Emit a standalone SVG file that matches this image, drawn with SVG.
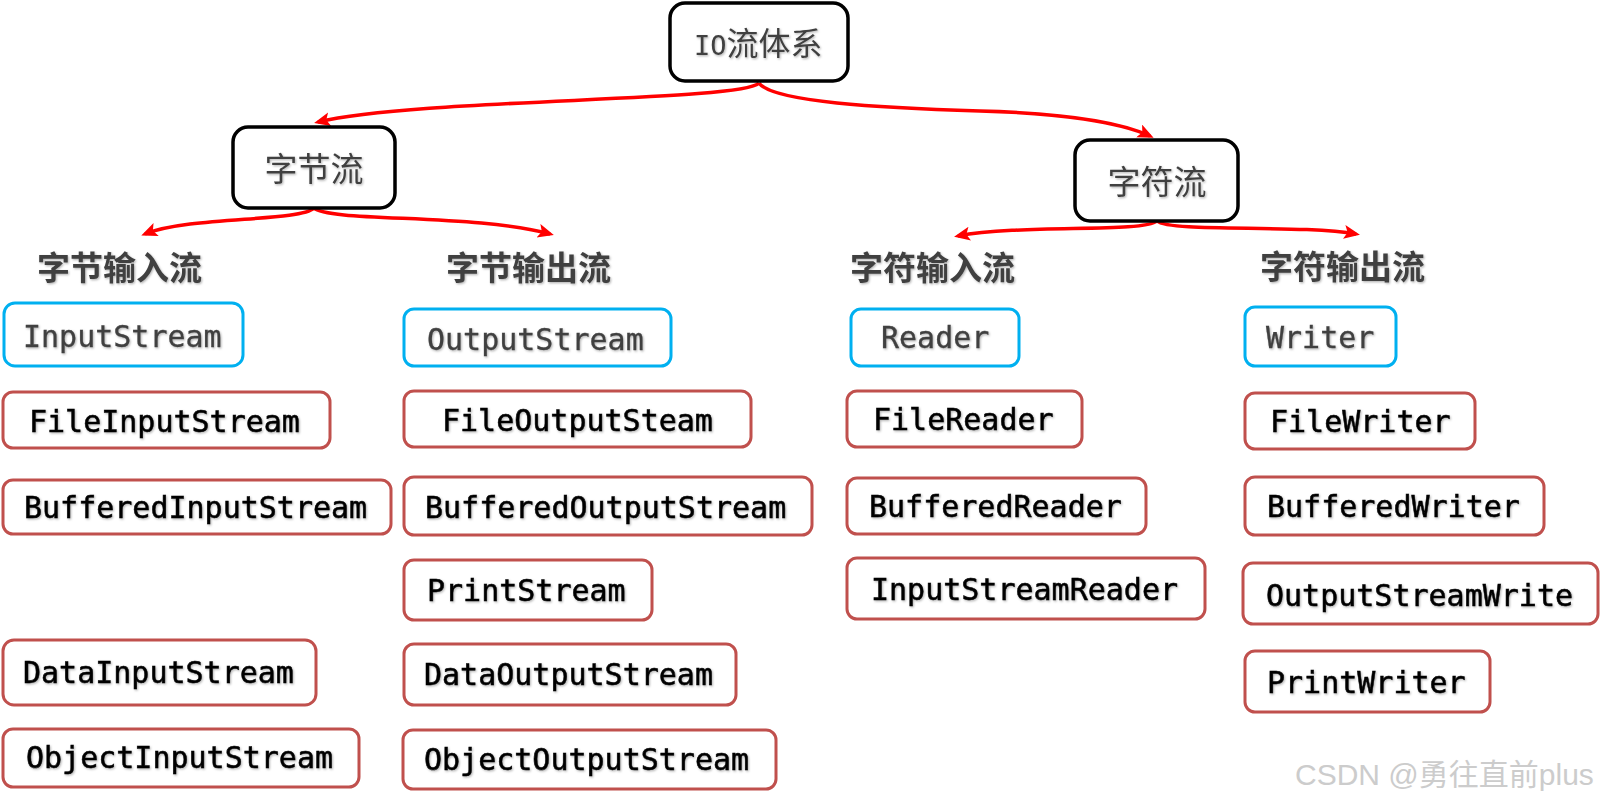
<svg xmlns="http://www.w3.org/2000/svg" width="1601" height="802" viewBox="0 0 1601 802">
<style>
.root{fill:#fff;stroke:#000;stroke-width:3.5}
.cls{fill:#fff;stroke:#C0504D;stroke-width:3}
.abs{fill:#fff;stroke:#00B0F0;stroke-width:3}
.mono{font-family:"DejaVu Sans Mono","Liberation Mono",monospace;font-size:30px}
.dark{fill:#000;stroke:#000;stroke-width:0.5}
.gray{fill:#404040;stroke:#404040;stroke-width:0.3}
.cjk{font-family:"Noto Sans CJK SC","Noto Sans",sans-serif;fill:#404040}
.hdr{font-family:"Noto Sans CJK SC","Noto Sans",sans-serif;font-size:33px;font-weight:700;fill:#404040}
.sh{filter:url(#shadow)}
.conn{fill:none;stroke:#FF0000;stroke-width:3.5;marker-end:url(#arr)}
</style>
<defs>
<filter id="shadow" x="-10%" y="-20%" width="120%" height="150%">
<feDropShadow dx="1" dy="1.2" stdDeviation="0.8" flood-color="#000" flood-opacity="0.3"/>
</filter>
<marker id="arr" markerUnits="userSpaceOnUse" markerWidth="18" markerHeight="16" refX="12" refY="7" orient="auto">
<path d="M0,0 L16,7 L0,14 L3.5,7 z" fill="#FF0000"/>
</marker>
</defs>
<rect width="1601" height="802" fill="#fff"/>

<g id="connectors">
<path class="conn" d="M759,83 C740,102 420,98 318,122"/>
<path class="conn" d="M759,83 C772,102 880,108 980,111 C1060,113 1120,122 1150,136"/>
<path class="conn" d="M314,208 C300,222 190,216 145,234"/>
<path class="conn" d="M314,208 C328,222 480,214 550,234"/>
<path class="conn" d="M1157,221 C1143,233 1020,224 958,236"/>
<path class="conn" d="M1157,221 C1171,233 1300,224 1356,234"/>
</g>

<g id="io">
<rect class="root" x="670" y="3" width="178" height="78" rx="15"/>
<text class="cjk sh" x="694" y="55" font-size="32"><tspan font-family="DejaVu Sans Mono,monospace" font-size="27">IO</tspan>流体系</text>
</g>
<g id="byte">
<rect class="root" x="233" y="127" width="162" height="81" rx="15"/>
<text class="cjk sh" x="314" y="181" font-size="33" text-anchor="middle">字节流</text>
</g>
<g id="char">
<rect class="root" x="1075" y="140" width="163" height="81" rx="15"/>
<text class="cjk sh" x="1157" y="194" font-size="33" text-anchor="middle">字符流</text>
</g>

<g id="h-byte-in"><text class="hdr sh" x="37" y="280">字节输入流</text></g>
<g id="h-byte-out"><text class="hdr sh" x="446" y="280">字节输出流</text></g>
<g id="h-char-in"><text class="hdr sh" x="850" y="280">字符输入流</text></g>
<g id="h-char-out"><text class="hdr sh" x="1260" y="279">字符输出流</text></g>

<g id="InputStream"><rect class="abs" x="4" y="303" width="239" height="63" rx="11"/><text class="mono gray sh" x="23" y="347">InputStream</text></g>
<g id="FileInputStream"><rect class="cls" x="3" y="392" width="327" height="56" rx="10"/><text class="mono dark sh" x="29" y="432">FileInputStream</text></g>
<g id="BufferedInputStream"><rect class="cls" x="3" y="480" width="388" height="54" rx="10"/><text class="mono dark sh" x="24" y="518">BufferedInputStream</text></g>
<g id="DataInputStream"><rect class="cls" x="3" y="640" width="313" height="65" rx="11"/><text class="mono dark sh" x="23" y="683">DataInputStream</text></g>
<g id="ObjectInputStream"><rect class="cls" x="3" y="729" width="356" height="58" rx="10"/><text class="mono dark sh" x="26" y="768">ObjectInputStream</text></g>

<g id="OutputStream"><rect class="abs" x="404" y="309" width="267" height="57" rx="10"/><text class="mono gray sh" x="427" y="350">OutputStream</text></g>
<g id="FileOutputSteam"><rect class="cls" x="404" y="391" width="347" height="56" rx="10"/><text class="mono dark sh" x="442" y="431">FileOutputSteam</text></g>
<g id="BufferedOutputStream"><rect class="cls" x="404" y="477" width="408" height="58" rx="10"/><text class="mono dark sh" x="425" y="518">BufferedOutputStream</text></g>
<g id="PrintStream"><rect class="cls" x="404" y="560" width="248" height="60" rx="10"/><text class="mono dark sh" x="427" y="601">PrintStream</text></g>
<g id="DataOutputStream"><rect class="cls" x="404" y="644" width="332" height="61" rx="10"/><text class="mono dark sh" x="424" y="685">DataOutputStream</text></g>
<g id="ObjectOutputStream"><rect class="cls" x="403" y="730" width="373" height="59" rx="10"/><text class="mono dark sh" x="424" y="770">ObjectOutputStream</text></g>

<g id="Reader"><rect class="abs" x="851" y="309" width="168" height="57" rx="10"/><text class="mono gray sh" x="881" y="348">Reader</text></g>
<g id="FileReader"><rect class="cls" x="847" y="391" width="235" height="56" rx="10"/><text class="mono dark sh" x="873" y="430">FileReader</text></g>
<g id="BufferedReader"><rect class="cls" x="847" y="478" width="299" height="56" rx="10"/><text class="mono dark sh" x="869" y="517">BufferedReader</text></g>
<g id="InputStreamReader"><rect class="cls" x="847" y="558" width="358" height="61" rx="10"/><text class="mono dark sh" x="871" y="600">InputStreamReader</text></g>

<g id="Writer"><rect class="abs" x="1245" y="307" width="151" height="59" rx="10"/><text class="mono gray sh" x="1266" y="348">Writer</text></g>
<g id="FileWriter"><rect class="cls" x="1245" y="393" width="230" height="56" rx="10"/><text class="mono dark sh" x="1270" y="432">FileWriter</text></g>
<g id="BufferedWriter"><rect class="cls" x="1245" y="477" width="299" height="58" rx="10"/><text class="mono dark sh" x="1267" y="517">BufferedWriter</text></g>
<g id="OutputStreamWrite"><rect class="cls" x="1243" y="563" width="355" height="61" rx="10"/><text class="mono dark sh" x="1266" y="606">OutputStreamWrite</text></g>
<g id="PrintWriter"><rect class="cls" x="1245" y="651" width="245" height="61" rx="10"/><text class="mono dark sh" x="1267" y="693">PrintWriter</text></g>

<text x="1295" y="785" font-family="Liberation Sans,Noto Sans CJK SC,sans-serif" font-size="30" fill="#cccccc">CSDN @勇往直前plus</text>
</svg>
